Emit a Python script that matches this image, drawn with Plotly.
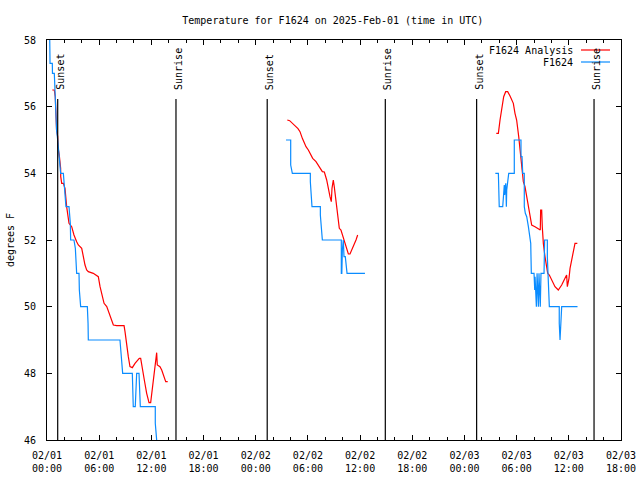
import plotly.graph_objects as go
import pandas as pd

START = pd.Timestamp("2025-02-01 00:00")

# Observed F1624 temperature (hours since 02/01 00:00 UTC, degrees F); None breaks the line
obs_hours = [0.30, 0.35, 0.61, 0.63, 0.84, 0.92, 1.00, 1.10, 1.23, 1.41, 1.49, 1.57, 1.88, 1.95,
             2.07, 2.18, 2.53, 2.68, 2.72, 3.10, 3.26, 3.33, 3.41, 3.68, 3.72, 3.87, 4.64, 4.72,
             4.75, 8.39, 8.47, 8.59, 8.70, 9.81, 9.85, 9.92, 10.15, 10.23, 10.31, 10.58, 10.62,
             10.73, 12.45, 12.45, 12.61, 12.65,
             None,
             27.48, 28.02, 28.02, 28.21, 30.28, 30.28, 30.47, 31.43, 31.43, 31.66, 33.84, 33.84,
             33.90, 33.96, 34.07, 34.15, 34.30, 34.50, 36.56,
             None,
             51.55, 51.90, 52.00, 52.40, 52.58, 52.62, 52.75, 52.82, 52.86, 53.09, 53.73, 53.73,
             54.50, 54.50, 54.62, 54.70, 54.88, 54.88, 55.00, 55.16, 55.35, 55.54, 55.62, 55.65,
             55.69, 56.00, 56.08, 56.12, 56.27, 56.35, 56.50, 56.57, 56.72, 56.80, 57.15, 57.22,
             57.53, 57.53, 57.63, 57.72, 57.76, 58.90, 58.90, 58.99, 59.10, 59.18, 61.00]
obs_temp = [58.3, 57.3, 57.3, 57.0, 57.0, 56.3, 55.75, 55.3, 55.0, 54.5, 54.3, 54.0, 54.0, 53.8,
            53.5, 53.0, 53.0, 52.5, 52.0, 52.0, 51.75, 51.25, 51.0, 51.0, 50.5, 50.0, 50.0, 49.5,
            49.0, 49.0, 48.7, 48.3, 48.0, 48.0, 47.5, 47.0, 47.0, 47.5, 48.0, 48.0, 47.5,
            47.0, 47.0, 46.5, 46.0, 45.5,
            None,
            55.0, 55.0, 54.25, 54.0, 54.0, 53.75, 53.0, 53.0, 52.75, 52.0, 52.0, 51.0,
            51.0, 51.7, 52.0, 51.5, 51.5, 51.0, 51.0,
            None,
            54.0, 54.0, 53.0, 53.0, 53.65, 53.35, 53.7, 53.0, 53.5, 54.0, 54.0, 55.0,
            55.0, 54.5, 54.5, 54.0, 54.0, 53.0, 52.8, 52.7, 52.4, 52.1, 51.9, 51.5,
            51.0, 51.0, 50.5, 50.9, 50.0, 51.0, 50.0, 51.0, 50.0, 51.0, 51.0, 52.0,
            52.0, 51.5, 51.0, 50.5, 50.0, 50.0, 49.5, 49.0, 49.5, 50.0, 50.0]

# F1624 Analysis
ana_hours = [0.61, 0.84, 0.95, 1.03, 1.10, 1.23, 1.25, 1.41, 1.50, 1.57, 1.58, 1.69, 1.88, 2.07,
             2.26, 2.38, 2.53, 2.84, 3.10, 3.41, 3.60, 3.99, 4.18, 4.37, 4.56, 4.75, 5.32, 5.71,
             5.90, 6.10, 6.30, 6.56, 6.87, 7.24, 7.63, 8.01, 8.86, 8.97, 9.08, 9.16, 9.35, 9.54,
             9.81, 10.12, 10.61, 10.77, 11.00, 11.19, 11.46, 11.73, 11.92, 12.11, 12.30, 12.53,
             12.61, 12.68, 12.99, 13.19, 13.37, 13.65, 13.88,
             None,
             27.63, 27.90, 28.86, 29.09, 29.36, 29.78, 30.05, 30.55, 30.93, 31.39, 31.66, 31.89,
             32.16, 32.54, 32.69, 32.77, 32.92, 33.03, 33.23, 33.38, 33.50, 33.61, 33.80, 34.07,
             34.26, 34.46, 34.65, 34.84, 35.22, 35.53, 35.72,
             None,
             51.66, 51.90, 52.09, 52.35, 52.51, 52.74, 52.97, 53.24, 53.62, 53.81, 54.00, 54.24,
             54.39, 54.50, 54.62, 54.77, 54.96, 55.16, 55.35, 55.54, 55.73, 56.11, 56.49, 56.72,
             56.76, 56.88, 56.95, 57.07, 57.26, 57.46, 57.57, 57.76, 58.03, 58.41, 58.79, 59.18,
             59.56, 59.75, 59.83, 60.02, 60.14, 60.33, 60.52, 60.71, 60.98]
ana_temp = [56.5, 56.5, 56.3, 55.9, 55.3, 55.1, 54.8, 54.55, 54.35, 54.15, 53.9, 53.7, 53.7, 53.55,
            53.0, 52.8, 52.5, 52.4, 52.15, 51.95, 51.85, 51.75, 51.45, 51.25, 51.1, 51.05, 51.0, 50.92,
            50.9, 50.6, 50.35, 50.1, 50.0, 49.7, 49.45, 49.43, 49.43, 49.25, 49.0, 48.9, 48.5, 48.2,
            48.17, 48.3, 48.45, 48.45, 48.15, 47.8, 47.4, 47.12, 47.12, 47.5, 48.0, 48.45,
            48.62, 48.25, 48.2, 48.1, 47.95, 47.75, 47.75,
            None,
            55.6, 55.58, 55.34, 55.25, 55.05, 54.8, 54.7, 54.45, 54.35, 54.15, 54.05, 54.04,
            53.8, 53.3, 53.15, 53.55, 53.8, 53.6, 53.2, 52.95, 52.65, 52.35, 52.3, 52.08,
            51.9, 51.7, 51.58, 51.58, 51.8, 52.0, 52.15,
            None,
            55.2, 55.2, 55.6, 56.0, 56.3, 56.45, 56.45, 56.32, 56.1, 55.8, 55.6, 55.1,
            54.7, 54.45, 54.1, 53.75, 53.6, 53.3, 53.0, 52.7, 52.45, 52.4, 52.32, 52.3,
            52.9, 52.9, 52.4, 51.9, 51.5, 51.1, 51.0, 50.95, 50.8, 50.6, 50.5, 50.65,
            50.85, 50.95, 50.6, 50.85, 51.15, 51.4, 51.7, 51.9, 51.9]

sun_hours = [1.23, 14.83, 25.32, 38.90, 49.40, 62.90]
sun_labels = ["Sunset", "Sunrise", "Sunset", "Sunrise", "Sunset", "Sunrise"]

tick_hours = [0, 6, 12, 18, 24, 30, 36, 42, 48, 54, 60, 66]
tick_labels = ["02/01<br>00:00", "02/01<br>06:00", "02/01<br>12:00", "02/01<br>18:00",
               "02/02<br>00:00", "02/02<br>06:00", "02/02<br>12:00", "02/02<br>18:00",
               "02/03<br>00:00", "02/03<br>06:00", "02/03<br>12:00", "02/03<br>18:00"]
y_ticks = [46, 48, 50, 52, 54, 56, 58]


def to_time(h):
    return None if h is None else (START + pd.Timedelta(hours=h)).strftime("%Y-%m-%d %H:%M:%S")


RED = "#ff0000"
BLUE = "#0a8cff"
FONT = "DejaVu Sans Mono"

fig = go.Figure()
fig.add_trace(go.Scatter(x=[to_time(h) for h in ana_hours], y=ana_temp, mode="lines",
                         line=dict(color=RED, width=1.2), name="F1624 Analysis",
                         connectgaps=False, showlegend=False))
fig.add_trace(go.Scatter(x=[to_time(h) for h in obs_hours], y=obs_temp, mode="lines",
                         line=dict(color=BLUE, width=1.2), name="F1624",
                         connectgaps=False, showlegend=False))

# Sunrise / sunset markers
for h, lab in zip(sun_hours, sun_labels):
    fig.add_shape(type="line", xref="x", yref="paper", x0=to_time(h), x1=to_time(h),
                  y0=0, y1=0.8525, line=dict(color="black", width=1.2))
    fig.add_annotation(x=to_time(h), xref="x", y=0.87, yref="paper", text=lab,
                       textangle=-90, showarrow=False, xanchor="center", yanchor="bottom",
                       xshift=2, font=dict(family=FONT, size=10, color="black"))

# Manual legend (text left of sample line, gnuplot style)
PW, PH, L, B = 574, 400, 47, 40
def px_x(px):
    return (px - L) / PW
def px_y(py):
    return (480 - B - py) / PH

for lab, col, py in [("F1624 Analysis", RED, 50), ("F1624", BLUE, 62)]:
    fig.add_annotation(x=px_x(575), xref="paper", y=px_y(py), yref="paper", text=lab,
                       showarrow=False, xanchor="right", yanchor="middle",
                       font=dict(family=FONT, size=10, color="black"))
    fig.add_shape(type="line", xref="paper", yref="paper", x0=px_x(581), x1=px_x(610),
                  y0=px_y(py), y1=px_y(py), line=dict(color=col, width=1.2))

fig.update_layout(
    width=640, height=480,
    margin=dict(l=L, r=640 - L - PW, t=40, b=B, autoexpand=False),
    paper_bgcolor="white", plot_bgcolor="white",
    font=dict(family=FONT, size=10, color="black"),
    title=dict(text="Temperature for F1624 on 2025-Feb-01 (time in UTC)", x=0.52, xanchor="center",
               y=1 - 20 / 480, yanchor="middle", font=dict(family=FONT, size=10)),
    showlegend=False,
)
fig.update_xaxes(
    type="date", range=[to_time(0), to_time(66)], automargin=False,
    tickvals=[to_time(h) for h in tick_hours], ticktext=tick_labels,
    ticks="inside", ticklen=5, tickcolor="black", tickwidth=1,
    minor=dict(dtick=2 * 3600 * 1000, tick0=to_time(0), ticks="inside", ticklen=3,
               tickcolor="black", showgrid=False),
    showline=True, linecolor="black", linewidth=1, mirror="allticks",
    showgrid=False, zeroline=False, ticklabelstandoff=6,
)
fig.update_yaxes(
    range=[46, 58], tickvals=y_ticks, ticktext=[str(v) for v in y_ticks], automargin=False,
    ticks="inside", ticklen=5, tickcolor="black", tickwidth=1,
    showline=True, linecolor="black", linewidth=1, mirror="allticks",
    showgrid=False, zeroline=False, ticklabelstandoff=8,
    title=dict(text="degrees F", standoff=7, font=dict(family=FONT, size=10)),
)

fig.write_html("out.html")
